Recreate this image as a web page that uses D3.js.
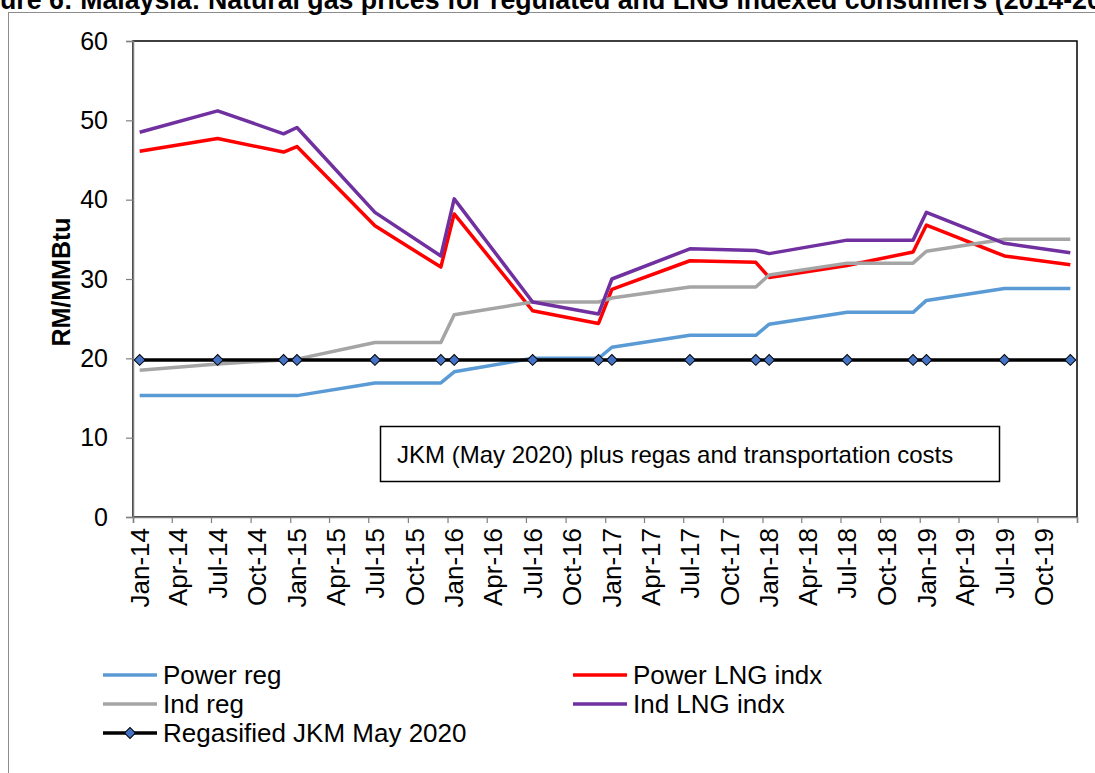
<!DOCTYPE html>
<html><head><meta charset="utf-8">
<script src="https://cdn.jsdelivr.net/npm/d3@7"></script>
<style>html,body{margin:0;padding:0;background:#fff;overflow:hidden}svg{display:block;font-family:Arial,"Liberation Sans",sans-serif}</style>
</head><body>
<svg id="c" width="1095" height="773"></svg>
<script>
const months = ["2014-01","2014-07","2014-12","2015-01","2015-07","2015-12","2016-01","2016-07","2016-12","2017-01","2017-07","2017-12","2018-01","2018-07","2018-12","2019-01","2019-07","2019-12"];
const powerReg = [15.3,15.3,15.3,15.3,16.9,16.9,18.3,20.0,20.0,21.4,22.9,22.9,24.3,25.8,25.8,27.3,28.8,28.8];
const powerLNG = [46.1,47.7,46.0,46.7,36.7,31.5,38.2,26.0,24.4,28.7,32.3,32.1,30.2,31.7,33.4,36.8,32.9,31.8];
const indReg = [18.5,19.3,19.8,19.9,22.0,22.0,25.5,27.1,27.1,27.6,29.0,29.0,30.5,32.0,32.0,33.5,35.0,35.0];
const indLNG = [48.5,51.2,48.3,49.1,38.4,32.9,40.1,27.1,25.6,30.0,33.8,33.6,33.2,34.9,34.9,38.4,34.5,33.3];
const jkm = [19.8,19.8,19.8,19.8,19.8,19.8,19.8,19.8,19.8,19.8,19.8,19.8,19.8,19.8,19.8,19.8,19.8,19.8];
const seriesNames = ["Power reg","Power LNG indx","Ind reg","Ind LNG indx","Regasified JKM May 2020"];
const seriesColors = ["#5B9BD5","#FF0000","#A5A5A5","#7030A0","#000000"];
const yTicks = [0,10,20,30,40,50,60];
const titleText = "Figure 6: Malaysia: Natural gas prices for regulated and LNG indexed consumers (2014-2020)";
const yTitle = "RM/MMBtu";
const noteText = "JKM (May 2020) plus regas and transportation costs";

const svg = d3.select("#c");
const parse = d3.timeParse("%Y-%m");
const mid = d => { const a = parse(d), b = d3.timeMonth.offset(a,1); return new Date((+a + +b)/2); };
const L = 133, R = 1077, T = 41, B = 517;
const x = d3.scaleTime().domain([new Date(2014,0,1), new Date(2020,0,1)]).range([L,R]);
const y = d3.scaleLinear().domain([0,60]).range([B,T]);

// outer frame
svg.append("rect").attr("x",8.5).attr("y",12.5).attr("width",1200).attr("height",900)
  .attr("fill","none").attr("stroke","#8c8c8c").attr("stroke-width",1);

// title (page-cropped at left/top/right as in the source image)
const measure = (s, fs) => { const t = svg.append("text").attr("font-weight","bold").attr("font-size",fs).text(s); const w = t.node().getComputedTextLength(); t.remove(); return w; };
const w0 = measure("ure 6: Malaysia: Natural gas prices for regulated and LNG indexed consumers (2014-20", 20);
const tfs = 20 * 1102 / w0;
const fw = measure("Fig", tfs);
svg.append("text").attr("font-weight","bold").attr("font-size",tfs).attr("x",-fw).attr("y",9).text(titleText);

// plot frame
svg.append("rect").attr("x",L).attr("y",T).attr("width",R-L).attr("height",B-T)
  .attr("fill","none").attr("stroke","#000").attr("stroke-width",1.5);

// y axis
const ya = svg.append("g").attr("transform",`translate(${L},0)`)
  .call(d3.axisLeft(y).tickValues(yTicks).tickSize(7).tickPadding(18).tickFormat(d3.format("d")));
ya.select(".domain").attr("stroke","#7f7f7f").attr("stroke-width",1.5);
ya.selectAll(".tick line").attr("stroke","#7f7f7f").attr("stroke-width",1.2);
ya.selectAll("text").attr("font-size",25).attr("fill","#000").attr("font-family",null);

// x axis
const xt = d3.timeMonth.every(3).range(new Date(2014,0,1), new Date(2020,0,2));
const xa = svg.append("g").attr("transform",`translate(0,${B})`)
  .call(d3.axisBottom(x).tickValues(xt).tickSize(6).tickFormat(""));
xa.select(".domain").attr("stroke","#7f7f7f").attr("stroke-width",1.5);
xa.selectAll(".tick line").attr("stroke","#7f7f7f").attr("stroke-width",1.2);
const fmt = d3.timeFormat("%b-%y");
svg.append("g").selectAll("text").data(xt.slice(0,-1)).join("text")
  .attr("transform", d => `translate(${x(new Date((+d + +d3.timeMonth.offset(d,1))/2))},${B+11}) rotate(-90)`)
  .attr("text-anchor","end").attr("dy","0.35em").attr("font-size",26).text(d => fmt(d));

// y title
svg.append("text").attr("transform","translate(61,282) rotate(-90)").attr("text-anchor","middle")
  .attr("dy","0.35em").attr("font-weight","bold").attr("font-size",25).text(yTitle);

// annotation box
svg.append("rect").attr("x",380.5).attr("y",426.5).attr("width",619).attr("height",55)
  .attr("fill","#fff").attr("stroke","#000").attr("stroke-width",1.5);
svg.append("text").attr("x",397).attr("y",455).attr("dy","0.35em").attr("font-size",24).text(noteText);

// series
const allSeries = [powerReg, powerLNG, indReg, indLNG, jkm];
const line = d3.line().x((d,i) => x(mid(months[i]))).y(d => y(d));
allSeries.forEach((s,k) => {
  svg.append("path").datum(s).attr("d",line).attr("fill","none")
    .attr("stroke",seriesColors[k]).attr("stroke-width",3.5).attr("stroke-linejoin","round");
});
svg.append("g").selectAll("path").data(jkm).join("path")
  .attr("d", d3.symbol().type(d3.symbolSquare).size(60))
  .attr("transform",(d,i)=>`translate(${x(mid(months[i]))},${y(d)}) rotate(45)`)
  .attr("fill","#4472C4").attr("stroke","#000").attr("stroke-width",1);

// legend
const legPos = [[103,675],[573,675],[103,704],[573,704],[103,733]];
seriesNames.forEach((n,k) => {
  const [lx,ly] = legPos[k];
  const g = svg.append("g");
  g.append("line").attr("x1",lx).attr("x2",lx+54).attr("y1",ly).attr("y2",ly)
    .attr("stroke",seriesColors[k]).attr("stroke-width",3.5);
  if (k===4) g.append("path").attr("d",d3.symbol().type(d3.symbolSquare).size(60))
    .attr("transform",`translate(${lx+27},${ly}) rotate(45)`).attr("fill","#4472C4").attr("stroke","#000");
  g.append("text").attr("x",lx+60).attr("y",ly).attr("dy","0.35em").attr("font-size",26).text(n);
});
</script>
</body></html>
